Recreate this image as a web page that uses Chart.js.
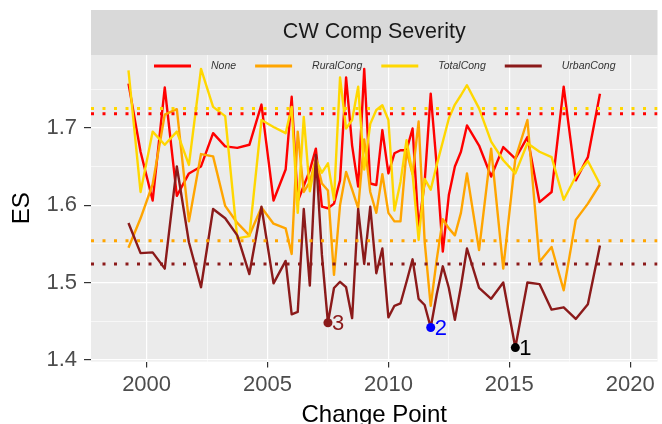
<!DOCTYPE html>
<html>
<head>
<meta charset="utf-8">
<script src="https://cdn.jsdelivr.net/npm/chart.js@4.4.1/dist/chart.umd.min.js"></script>
<style>
  html, body { margin: 0; padding: 0; background: #ffffff; }
  canvas { display: block; }
</style>
</head>
<body>
<canvas id="c" width="662" height="424"></canvas>
<script>
// change points (years)
var years = [1999.25, 1999.75, 2000.25, 2000.75, 2001.25, 2001.75, 2002.25, 2002.75, 2003.25, 2003.75, 2004.25, 2004.75, 2005.25, 2005.75,
  2006, 2006.25, 2006.5, 2006.75, 2007, 2007.25, 2007.5, 2007.75, 2008, 2008.25, 2008.5, 2008.75, 2009, 2009.25, 2009.5, 2009.75,
  2010, 2010.25, 2010.5, 2010.75, 2011, 2011.25, 2011.5, 2011.75, 2012, 2012.25, 2012.5, 2012.75, 2013,
  2013.25, 2013.75, 2014.25, 2014.75, 2015.25, 2015.75, 2016.25, 2016.75, 2017.25, 2017.75, 2018.25, 2018.75];

var seriesNames = ['None', 'RuralCong', 'TotalCong', 'UrbanCong'];
var seriesColors = ['#FF0000', '#FFA500', '#FFD700', '#8B1A1A'];

var noneES = [1.757, 1.669, 1.606, 1.752, 1.612, 1.641, 1.650, 1.693, 1.676, 1.674, 1.678, 1.730, 1.606, 1.646,
  1.740, 1.605, 1.625, 1.645, 1.673, 1.598, 1.596, 1.602, 1.632, 1.765, 1.677, 1.624, 1.776, 1.628, 1.626, 1.697,
  1.641, 1.667, 1.671, 1.671, 1.699, 1.570, 1.630, 1.744, 1.650, 1.540, 1.613, 1.650, 1.669,
  1.703, 1.677, 1.637, 1.675, 1.660, 1.688, 1.604, 1.617, 1.753, 1.632, 1.662, 1.744];
var ruralES = [1.545, 1.583, 1.627, 1.717, 1.724, 1.579, 1.666, 1.663, 1.599, 1.577, 1.561, 1.597, 1.576, 1.570,
  1.537, 1.695, 1.617, 1.630, 1.660, 1.628, 1.619, 1.510, 1.600, 1.643, 1.620, 1.596, 1.685, 1.617, 1.590, 1.640,
  1.590, 1.579, 1.579, 1.670, 1.640, 1.708, 1.553, 1.470, 1.530, 1.582, 1.570, 1.561, 1.590,
  1.641, 1.542, 1.673, 1.518, 1.660, 1.710, 1.527, 1.546, 1.490, 1.581, 1.602, 1.627];
var totalES = [1.774, 1.617, 1.695, 1.678, 1.695, 1.652, 1.776, 1.727, 1.715, 1.557, 1.560, 1.710, 1.701, 1.693,
  1.727, 1.590, 1.714, 1.618, 1.659, 1.642, 1.654, 1.607, 1.765, 1.699, 1.710, 1.753, 1.646, 1.705, 1.723, 1.729,
  1.710, 1.593, 1.630, 1.684, 1.640, 1.555, 1.634, 1.620, 1.652, 1.682, 1.712, 1.730, 1.742,
  1.755, 1.725, 1.682, 1.658, 1.641, 1.680, 1.669, 1.662, 1.607, 1.637, 1.657, 1.627];
var urbanES = [1.577, 1.538, 1.539, 1.518, 1.650, 1.552, 1.494, 1.595, 1.583, 1.561, 1.511, 1.598, 1.499, 1.528,
  1.459, 1.462, 1.595, 1.496, 1.665, 1.536, 1.448, 1.493, 1.501, 1.494, 1.454, 1.595, 1.524, 1.598, 1.512, 1.544,
  1.455, 1.470, 1.473, 1.501, 1.530, 1.479, 1.471, 1.442, 1.485, 1.521, 1.493, 1.452, 1.495,
  1.544, 1.493, 1.479, 1.500, 1.416, 1.500, 1.498, 1.465, 1.468, 1.453, 1.472, 1.548];

// dotted mean levels, same order as seriesNames
var meanES = [1.718, 1.554, 1.725, 1.524];

// the three marked lowest points
var markYears = [2015.25, 2011.75, 2007.5];
var markES = [1.416, 1.442, 1.448];
var markLabels = ['1', '2', '3'];
var markColors = ['#000000', '#0000FF', '#8B1A1A'];

var xMajor = [2000, 2005, 2010, 2015, 2020];
var xMinor = [2002.5, 2007.5, 2012.5, 2017.5];
var yMajor = [1.4, 1.5, 1.6, 1.7];
var yMinor = [1.45, 1.55, 1.65, 1.75];

var stripTitle = 'CW Comp Severity';
var xTitle = 'Change Point';
var yTitle = 'ES';

var FONT = '"Liberation Sans", Arial, Helvetica, sans-serif';
var X_MIN = 1997.7, X_MAX = 2021.13, Y_MIN = 1.398, Y_MAX = 1.794;

function isMajor(list, v) {
  return list.some(function (m) { return Math.abs(m - v) < 1e-9; });
}
function pts(vals) {
  return years.map(function (x, i) { return { x: x, y: vals[i] }; });
}

var allSeries = [noneES, ruralES, totalES, urbanES];
var datasets = [];
allSeries.forEach(function (vals, i) {
  datasets.push({
    label: seriesNames[i],
    data: pts(vals),
    borderColor: seriesColors[i],
    borderWidth: 2.4,
    borderJoinStyle: 'round',
    pointRadius: 0,
    tension: 0,
    fill: false,
    order: 10 - i
  });
});
meanES.forEach(function (m, i) {
  datasets.push({
    label: seriesNames[i] + ' mean',
    data: [{ x: X_MIN, y: m }, { x: X_MAX, y: m }],
    borderColor: seriesColors[i],
    borderWidth: 3,
    borderDash: [3, 8.5],
    borderCapStyle: 'butt',
    pointRadius: 0,
    fill: false,
    order: 5 - i
  });
});
datasets.push({
  type: 'scatter',
  label: 'marks',
  data: markYears.map(function (x, i) { return { x: x, y: markES[i] }; }),
  pointBackgroundColor: markColors,
  pointBorderColor: markColors,
  pointBorderWidth: 0,
  pointRadius: 4.5,
  showLine: false,
  order: 0
});

var decor = {
  id: 'decor',
  beforeDraw: function (chart) {
    var ctx = chart.ctx, a = chart.chartArea;
    ctx.save();
    ctx.fillStyle = '#EBEBEB';
    ctx.fillRect(a.left, a.top, a.right - a.left, a.bottom - a.top);
    ctx.fillStyle = '#D9D9D9';
    ctx.fillRect(a.left, 10, a.right - a.left, a.top - 10);
    ctx.fillStyle = '#1A1A1A';
    ctx.font = '21.5px ' + FONT;
    ctx.textAlign = 'center';
    ctx.textBaseline = 'middle';
    ctx.fillText(stripTitle, (a.left + a.right) / 2, 32.5);
    ctx.restore();
  },
  afterDatasetsDraw: function (chart) {
    var ctx = chart.ctx;
    ctx.save();
    // legend inside the panel top
    ctx.font = 'italic 10.5px ' + FONT;
    ctx.textBaseline = 'middle';
    ctx.textAlign = 'left';
    var lx = 154, ly = 66;
    seriesNames.forEach(function (name, i) {
      ctx.strokeStyle = seriesColors[i];
      ctx.lineWidth = 2.8;
      ctx.lineCap = 'butt';
      ctx.beginPath();
      ctx.moveTo(lx, ly);
      ctx.lineTo(lx + 37, ly);
      ctx.stroke();
      ctx.fillStyle = '#333333';
      ctx.fillText(name, lx + 57, ly);
      lx += 57 + ctx.measureText(name).width + 19;
    });
    // labels of marked points
    var meta = chart.getDatasetMeta(chart.data.datasets.length - 1);
    ctx.font = '22px ' + FONT;
    meta.data.forEach(function (p, i) {
      ctx.fillStyle = markColors[i];
      ctx.fillText(markLabels[i], p.x + 4, p.y + 1);
    });
    ctx.restore();
  },
  afterDraw: function (chart) {
    var ctx = chart.ctx, a = chart.chartArea;
    ctx.save();
    ctx.fillStyle = '#000000';
    ctx.font = '24px ' + FONT;
    ctx.textAlign = 'center';
    ctx.textBaseline = 'alphabetic';
    ctx.fillText(xTitle, (a.left + a.right) / 2, 422);
    ctx.translate(22, (a.top + a.bottom) / 2);
    ctx.rotate(-Math.PI / 2);
    ctx.textBaseline = 'middle';
    ctx.fillText(yTitle, 0, 0);
    ctx.restore();
  }
};

new Chart(document.getElementById('c').getContext('2d'), {
  type: 'line',
  data: { datasets: datasets },
  plugins: [decor],
  options: {
    responsive: false,
    animation: false,
    devicePixelRatio: 1,
    layout: { padding: { top: 55, right: 3, left: 0, bottom: 0 } },
    plugins: { legend: { display: false }, tooltip: { enabled: false } },
    scales: {
      x: {
        type: 'linear',
        min: X_MIN,
        max: X_MAX,
        afterFit: function (s) { s.height = 62.5; },
        afterBuildTicks: function (s) {
          s.ticks = xMajor.concat(xMinor).sort(function (a, b) { return a - b; })
            .map(function (v) { return { value: v }; });
        },
        ticks: {
          autoSkip: false,
          maxRotation: 0,
          padding: 4,
          color: '#4D4D4D',
          font: { family: FONT, size: 22 },
          callback: function (v) { return isMajor(xMajor, v) ? String(v) : ''; }
        },
        grid: {
          color: '#FFFFFF',
          lineWidth: function (c) { return c.tick && isMajor(xMajor, c.tick.value) ? 1.2 : 0.6; },
          tickColor: function (c) { return c.tick && isMajor(xMajor, c.tick.value) ? '#333333' : 'rgba(0,0,0,0)'; },
          tickWidth: 1.2,
          tickLength: 6
        },
        border: { display: false }
      },
      y: {
        min: Y_MIN,
        max: Y_MAX,
        afterFit: function (s) { s.width = 91; },
        afterBuildTicks: function (s) {
          s.ticks = yMajor.concat(yMinor).sort(function (a, b) { return a - b; })
            .map(function (v) { return { value: v }; });
        },
        ticks: {
          autoSkip: false,
          padding: 7,
          color: '#4D4D4D',
          font: { family: FONT, size: 22 },
          callback: function (v) { return isMajor(yMajor, v) ? v.toFixed(1) : ''; }
        },
        grid: {
          color: '#FFFFFF',
          lineWidth: function (c) { return c.tick && isMajor(yMajor, c.tick.value) ? 1.2 : 0.6; },
          tickColor: function (c) { return c.tick && isMajor(yMajor, c.tick.value) ? '#333333' : 'rgba(0,0,0,0)'; },
          tickWidth: 1.2,
          tickLength: 7
        },
        border: { display: false }
      }
    }
  }
});
</script>
</body>
</html>
